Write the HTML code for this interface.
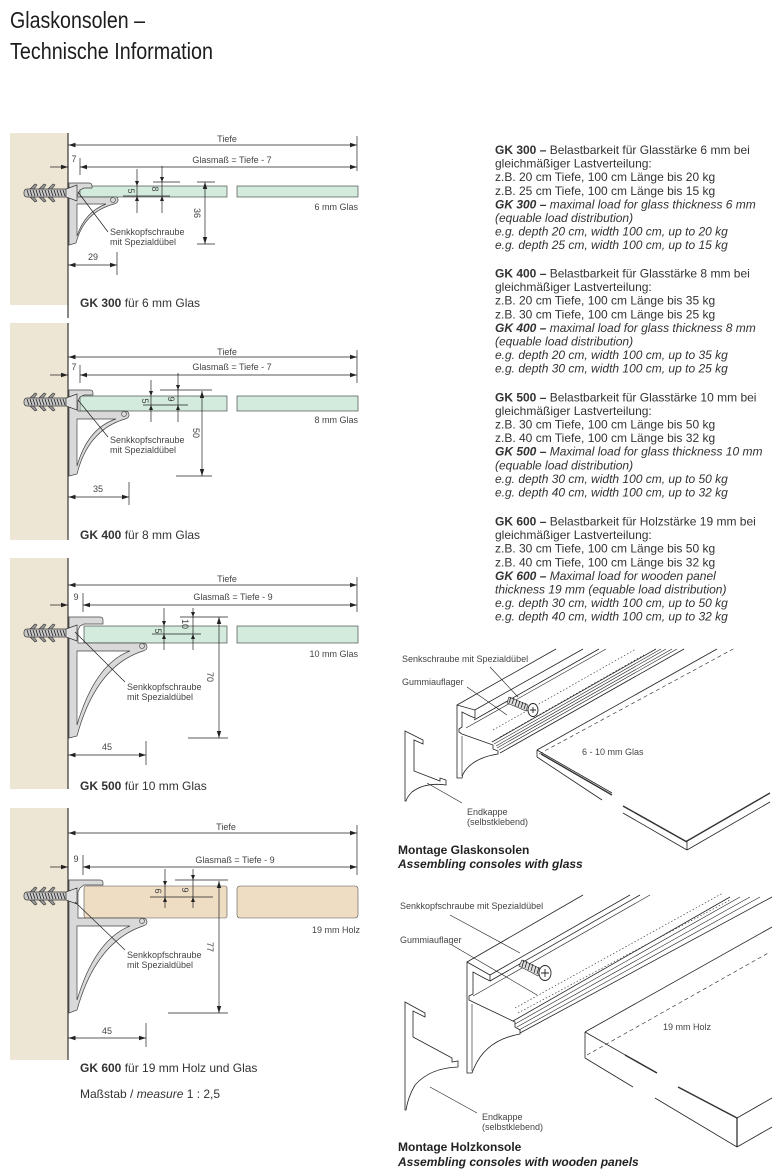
<!DOCTYPE html>
<html><head><meta charset="utf-8"><title>Glaskonsolen – Technische Information</title>
<style>
html,body{margin:0;padding:0;background:#fff;}
svg{display:block;}
text{font-family:"Liberation Sans",Arial,sans-serif;}
.d{stroke:#222;stroke-width:0.7;fill:none;}
.dt{font-size:9px;fill:#444;}
.lb{font-size:9px;fill:#444;}
.cap{font-size:12px;fill:#333;}
.rt{font-size:12px;fill:#333;}
.br{fill:#d9d9d9;stroke:#444;stroke-width:0.7;}
.bi{fill:#fff;stroke:#444;stroke-width:0.7;}
.ln{stroke:#222;stroke-width:0.8;fill:none;}
.lt{stroke:#222;stroke-width:0.6;fill:none;}
</style></head>
<body>
<svg width="774" height="1170" viewBox="0 0 774 1170" xmlns="http://www.w3.org/2000/svg">
<defs>
<marker id="ar" markerUnits="userSpaceOnUse" markerWidth="7" markerHeight="5" refX="7" refY="2.5" orient="auto-start-reverse" viewBox="0 0 7 5"><path d="M0,0.3 L7,2.5 L0,4.7z" fill="#222"/></marker>
<g id="screw">
<path d="M30,-4 L35,-9 L37,-8 L34,-4 Z M39,-4 L44,-9 L46,-8 L43,-4 Z M48,-4 L53,-9 L55,-8 L52,-4 Z M30,4 L35,9 L37,8 L34,4 Z M39,4 L44,9 L46,8 L43,4 Z M48,4 L53,9 L55,8 L52,4 Z" fill="#9a9a9a" stroke="#333" stroke-width="0.6"/>
<rect x="24" y="-4" width="44" height="8" rx="3" fill="#c8c8c8" stroke="#333" stroke-width="0.7"/>
<path d="M27,-3 l2,6 M30,-3 l2,6 M33,-3 l2,6 M36,-3 l2,6 M39,-3 l2,6 M42,-3 l2,6 M45,-3 l2,6 M48,-3 l2,6 M51,-3 l2,6 M54,-3 l2,6 M57,-3 l2,6 M60,-3 l2,6 M63,-3 l2,6" stroke="#222" stroke-width="0.8"/>
<path d="M66,-4 L77,-8 L77,8 L66,4 Z" fill="#e0e0e0" stroke="#333" stroke-width="0.7"/>
</g>
</defs>

<!-- Title -->
<text x="10" y="28" font-size="23" textLength="135" lengthAdjust="spacingAndGlyphs" fill="#1c1c1c">Glaskonsolen –</text>
<text x="10" y="59" font-size="23" textLength="203" lengthAdjust="spacingAndGlyphs" fill="#1c1c1c">Technische Information</text>

<!-- ============ GK 300 ============ -->
<rect x="10" y="133" width="58" height="172" fill="#eee6d4"/>
<line x1="68" y1="133" x2="68" y2="318" stroke="#111" stroke-width="1"/>
<line class="d" x1="68.5" y1="145" x2="357" y2="145" marker-start="url(#ar)" marker-end="url(#ar)"/>
<line class="d" x1="357" y1="136" x2="357" y2="171"/>
<text class="dt" x="227" y="142" text-anchor="middle">Tiefe</text>
<line class="d" x1="80" y1="167" x2="357" y2="167" marker-start="url(#ar)" marker-end="url(#ar)"/>
<line class="d" x1="80" y1="158" x2="80" y2="175"/>
<line class="d" x1="50" y1="167" x2="68" y2="167" marker-end="url(#ar)"/>
<text class="dt" x="74" y="162" text-anchor="middle">7</text>
<text class="dt" x="232" y="163" text-anchor="middle">Glasmaß = Tiefe - 7</text>
<rect x="80" y="186" width="147" height="11" fill="#d3ebdc" stroke="#333" stroke-width="0.6"/>
<rect x="237" y="186" width="121" height="11" fill="#d3ebdc" stroke="#333" stroke-width="0.6"/>
<text class="dt" x="358" y="210" text-anchor="end">6 mm Glas</text>
<line class="d" x1="137" y1="169" x2="137" y2="213"/>
<path d="M135,181 L139,181 L137,186 Z M135,201 L139,201 L137,196 Z" fill="#222"/>
<line class="d" x1="123" y1="196" x2="170" y2="196"/>
<line class="d" x1="162" y1="166" x2="162" y2="213"/>
<path d="M160,177 L164,177 L162,182 Z M160,201 L164,201 L162,196 Z" fill="#222"/>
<line class="d" x1="153" y1="182" x2="180" y2="182"/>
<text class="dt" transform="translate(128,191) rotate(90)" text-anchor="middle">5</text>
<text class="dt" transform="translate(152,189) rotate(90)" text-anchor="middle">8</text>
<line class="d" x1="205" y1="182" x2="205" y2="244" marker-start="url(#ar)" marker-end="url(#ar)"/>
<line class="d" x1="197" y1="182" x2="215" y2="182"/>
<line class="d" x1="197" y1="244" x2="215" y2="244"/>
<text class="dt" transform="translate(194,213) rotate(90)" text-anchor="middle">36</text>
<line class="d" x1="68.5" y1="265" x2="117" y2="265" marker-start="url(#ar)" marker-end="url(#ar)"/>
<line class="d" x1="117" y1="252" x2="117" y2="275"/>
<text class="dt" x="93" y="260" text-anchor="middle">29</text>
<path class="br" d="M69,183 L89,183 Q92,183 92,186 L92,188 L84,188 L80,190 L78,194 L78,197 L113,197 Q118,196 118,200 Q118,203 114,204 Q84,212 76,243 L69,245 Z"/>
<path class="bi" d="M77,204 L106,204 Q85,212 77,236 Z"/>
<circle cx="113" cy="200" r="2.5" fill="#d9d9d9" stroke="#444" stroke-width="0.6"/>
<use href="#screw" transform="translate(0,193)"/>
<line class="d" x1="78" y1="192" x2="108" y2="232"/>
<text class="lb" x="110" y="235">Senkkopfschraube</text>
<text class="lb" x="110" y="245">mit Spezialdübel</text>
<text class="cap" x="80" y="307"><tspan font-weight="bold">GK 300</tspan> für 6 mm Glas</text>

<!-- ============ GK 400 ============ -->
<rect x="10" y="323" width="58" height="217" fill="#eee6d4"/>
<line x1="68" y1="323" x2="68" y2="540" stroke="#111" stroke-width="1"/>
<line class="d" x1="68.5" y1="357" x2="357" y2="357" marker-start="url(#ar)" marker-end="url(#ar)"/>
<line class="d" x1="357" y1="350" x2="357" y2="383"/>
<text class="dt" x="227" y="355" text-anchor="middle">Tiefe</text>
<line class="d" x1="80" y1="375" x2="357" y2="375" marker-start="url(#ar)" marker-end="url(#ar)"/>
<line class="d" x1="80" y1="365" x2="80" y2="383"/>
<line class="d" x1="50" y1="375" x2="68" y2="375" marker-end="url(#ar)"/>
<text class="dt" x="74" y="370" text-anchor="middle">7</text>
<text class="dt" x="232" y="370" text-anchor="middle">Glasmaß = Tiefe - 7</text>
<rect x="80" y="396" width="147" height="15" fill="#d3ebdc" stroke="#333" stroke-width="0.6"/>
<rect x="237" y="396" width="121" height="15" fill="#d3ebdc" stroke="#333" stroke-width="0.6"/>
<text class="dt" x="358" y="423" text-anchor="end">8 mm Glas</text>
<line class="d" x1="151" y1="380" x2="151" y2="422"/>
<path d="M149,391 L153,391 L151,396 Z M149,410 L153,410 L151,405 Z" fill="#222"/>
<line class="d" x1="143" y1="405" x2="188" y2="405"/>
<line class="d" x1="178" y1="373" x2="178" y2="422"/>
<path d="M176,385 L180,385 L178,390 Z M176,410 L180,410 L178,405 Z" fill="#222"/>
<line class="d" x1="160" y1="390" x2="212" y2="390"/>
<text class="dt" transform="translate(142,401) rotate(90)" text-anchor="middle">5</text>
<text class="dt" transform="translate(168,399) rotate(90)" text-anchor="middle">9</text>
<line class="d" x1="202" y1="391" x2="202" y2="476" marker-start="url(#ar)" marker-end="url(#ar)"/>
<line class="d" x1="176" y1="476" x2="212" y2="476"/>
<text class="dt" transform="translate(193,433) rotate(90)" text-anchor="middle">50</text>
<line class="d" x1="68.5" y1="497" x2="129" y2="497" marker-start="url(#ar)" marker-end="url(#ar)"/>
<line class="d" x1="129" y1="482" x2="129" y2="505"/>
<text class="dt" x="98" y="492" text-anchor="middle">35</text>
<path class="br" d="M69,390 L90,390 Q93,390 93,393 L93,395 L84,395 L80,397 L78,401 L78,411 L124,411 Q129,411 129,415 Q129,418 125,419 Q88,430 77,474 L69,476 Z"/>
<path class="bi" d="M77,419 L116,419 Q88,428 77,466 Z"/>
<circle cx="124" cy="414" r="2.5" fill="#d9d9d9" stroke="#444" stroke-width="0.6"/>
<use href="#screw" transform="translate(0,402)"/>
<line class="d" x1="78" y1="400" x2="108" y2="437"/>
<text class="lb" x="110" y="443">Senkkopfschraube</text>
<text class="lb" x="110" y="453">mit Spezialdübel</text>
<text class="cap" x="80" y="539"><tspan font-weight="bold">GK 400</tspan> für 8 mm Glas</text>

<!-- ============ GK 500 ============ -->
<rect x="10" y="558" width="58" height="231" fill="#eee6d4"/>
<line x1="68" y1="558" x2="68" y2="789" stroke="#111" stroke-width="1"/>
<line class="d" x1="68.5" y1="585" x2="357" y2="585" marker-start="url(#ar)" marker-end="url(#ar)"/>
<line class="d" x1="357" y1="577" x2="357" y2="612"/>
<text class="dt" x="227" y="582" text-anchor="middle">Tiefe</text>
<line class="d" x1="83" y1="605" x2="357" y2="605" marker-start="url(#ar)" marker-end="url(#ar)"/>
<line class="d" x1="83" y1="593" x2="83" y2="612"/>
<line class="d" x1="50" y1="605" x2="68" y2="605" marker-end="url(#ar)"/>
<text class="dt" x="76" y="600" text-anchor="middle">9</text>
<text class="dt" x="233" y="600" text-anchor="middle">Glasmaß = Tiefe - 9</text>
<rect x="84" y="626" width="143" height="17" fill="#d3ebdc" stroke="#333" stroke-width="0.6"/>
<rect x="237" y="626" width="121" height="17" fill="#d3ebdc" stroke="#333" stroke-width="0.6"/>
<text class="dt" x="358" y="657" text-anchor="end">10 mm Glas</text>
<line class="d" x1="164" y1="608" x2="164" y2="650"/>
<path d="M162,621 L166,621 L164,626 Z M162,639 L166,639 L164,634 Z" fill="#222"/>
<line class="d" x1="152" y1="634" x2="201" y2="634"/>
<line class="d" x1="193" y1="608" x2="193" y2="650"/>
<path d="M191,612 L195,612 L193,617 Z M191,639 L195,639 L193,634 Z" fill="#222"/>
<line class="d" x1="180" y1="617" x2="228" y2="617"/>
<text class="dt" transform="translate(155,631) rotate(90)" text-anchor="middle">5</text>
<text class="dt" transform="translate(182,624) rotate(90)" text-anchor="middle">10</text>
<line class="d" x1="219" y1="617" x2="219" y2="738" marker-start="url(#ar)" marker-end="url(#ar)"/>
<line class="d" x1="188" y1="738" x2="228" y2="738"/>
<text class="dt" transform="translate(207,677) rotate(90)" text-anchor="middle">70</text>
<line class="d" x1="68.5" y1="755" x2="146" y2="755" marker-start="url(#ar)" marker-end="url(#ar)"/>
<line class="d" x1="146" y1="741" x2="146" y2="765"/>
<text class="dt" x="107" y="750" text-anchor="middle">45</text>
<path class="br" d="M69,617 L100,617 Q103,617 103,620 L103,624 L84,624 L80,626 L78,630 L78,643 L142,643 Q147,643 147,647 Q147,650 143,651 Q96,666 77,736 L69,738 Z"/>
<path class="bi" d="M77,651 L130,651 Q95,664 77,725 Z"/>
<circle cx="142" cy="646" r="2.5" fill="#d9d9d9" stroke="#444" stroke-width="0.6"/>
<use href="#screw" transform="translate(0,633)"/>
<line class="d" x1="75" y1="632" x2="125" y2="682"/>
<text class="lb" x="127" y="690">Senkkopfschraube</text>
<text class="lb" x="127" y="700">mit Spezialdübel</text>
<text class="cap" x="80" y="790"><tspan font-weight="bold">GK 500</tspan> für 10 mm Glas</text>

<!-- ============ GK 600 ============ -->
<rect x="10" y="808" width="58" height="252" fill="#eee6d4"/>
<line x1="68" y1="808" x2="68" y2="1060" stroke="#111" stroke-width="1"/>
<line class="d" x1="68.5" y1="833" x2="357" y2="833" marker-start="url(#ar)" marker-end="url(#ar)"/>
<line class="d" x1="357" y1="825" x2="357" y2="875"/>
<text class="dt" x="226" y="830" text-anchor="middle">Tiefe</text>
<line class="d" x1="83" y1="867" x2="357" y2="867" marker-start="url(#ar)" marker-end="url(#ar)"/>
<line class="d" x1="83" y1="855" x2="83" y2="875"/>
<line class="d" x1="50" y1="867" x2="68" y2="867" marker-end="url(#ar)"/>
<text class="dt" x="76" y="862" text-anchor="middle">9</text>
<text class="dt" x="235" y="863" text-anchor="middle">Glasmaß = Tiefe - 9</text>
<rect x="84" y="886" width="143" height="32" rx="2" fill="#eedcc3" stroke="#555" stroke-width="0.6"/>
<rect x="237" y="886" width="121" height="32" rx="3" fill="#eedcc3" stroke="#555" stroke-width="0.6"/>
<text class="dt" x="360" y="933" text-anchor="end">19 mm Holz</text>
<line class="d" x1="165" y1="869" x2="165" y2="908"/>
<path d="M163,881 L167,881 L165,886 Z M163,902 L167,902 L165,897 Z" fill="#222"/>
<line class="d" x1="150" y1="897" x2="213" y2="897"/>
<line class="d" x1="193" y1="869" x2="193" y2="908"/>
<path d="M191,875 L195,875 L193,880 Z M191,902 L195,902 L193,897 Z" fill="#222"/>
<line class="d" x1="175" y1="880" x2="228" y2="880"/>
<text class="dt" transform="translate(155,891) rotate(90)" text-anchor="middle">6</text>
<text class="dt" transform="translate(182,890) rotate(90)" text-anchor="middle">9</text>
<line class="d" x1="219" y1="881" x2="219" y2="1013" marker-start="url(#ar)" marker-end="url(#ar)"/>
<line class="d" x1="168" y1="1013" x2="228" y2="1013"/>
<text class="dt" transform="translate(207,947) rotate(90)" text-anchor="middle">77</text>
<line class="d" x1="68.5" y1="1038" x2="146" y2="1038" marker-start="url(#ar)" marker-end="url(#ar)"/>
<line class="d" x1="146" y1="1023" x2="146" y2="1047"/>
<text class="dt" x="107" y="1034" text-anchor="middle">45</text>
<path class="br" d="M69,880 L100,880 Q103,880 103,883 L103,885 L84,885 L80,888 L78,892 L78,918 L142,918 Q147,918 147,922 Q147,925 143,926 Q96,942 77,1010 L69,1013 Z"/>
<path class="bi" d="M77,926 L130,926 Q95,940 77,1000 Z"/>
<circle cx="142" cy="921" r="2.5" fill="#d9d9d9" stroke="#444" stroke-width="0.6"/>
<use href="#screw" transform="translate(0,896)"/>
<line class="d" x1="75" y1="902" x2="125" y2="950"/>
<text class="lb" x="127" y="958">Senkkopfschraube</text>
<text class="lb" x="127" y="968">mit Spezialdübel</text>
<text class="cap" x="80" y="1072"><tspan font-weight="bold">GK 600</tspan> für 19 mm Holz und Glas</text>
<text class="cap" x="80" y="1098">Maßstab / <tspan font-style="italic">measure</tspan> 1 : 2,5</text>

<!-- ============ Right text ============ -->
<g class="rt">
<text class="rt" x="495" y="154"><tspan font-weight="bold">GK 300 –</tspan> Belastbarkeit für Glasstärke 6 mm bei</text>
<text class="rt" x="495" y="167.6">gleichmäßiger Lastverteilung:</text>
<text class="rt" x="495" y="181.2">z.B. 20 cm Tiefe, 100 cm Länge bis 20 kg</text>
<text class="rt" x="495" y="194.8">z.B. 25 cm Tiefe, 100 cm Länge bis 15 kg</text>
<text class="rt" x="495" y="208.4" font-style="italic"><tspan font-weight="bold">GK 300 –</tspan> maximal load for glass thickness 6 mm</text>
<text class="rt" x="495" y="222" font-style="italic">(equable load distribution)</text>
<text class="rt" x="495" y="235.6" font-style="italic">e.g. depth 20 cm, width 100 cm, up to 20 kg</text>
<text class="rt" x="495" y="249.2" font-style="italic">e.g. depth 25 cm, width 100 cm, up to 15 kg</text>

<text class="rt" x="495" y="277.5"><tspan font-weight="bold">GK 400 –</tspan> Belastbarkeit für Glasstärke 8 mm bei</text>
<text class="rt" x="495" y="291.1">gleichmäßiger Lastverteilung:</text>
<text class="rt" x="495" y="304.7">z.B. 20 cm Tiefe, 100 cm Länge bis 35 kg</text>
<text class="rt" x="495" y="318.3">z.B. 30 cm Tiefe, 100 cm Länge bis 25 kg</text>
<text class="rt" x="495" y="331.9" font-style="italic"><tspan font-weight="bold">GK 400 –</tspan> maximal load for glass thickness 8 mm</text>
<text class="rt" x="495" y="345.5" font-style="italic">(equable load distribution)</text>
<text class="rt" x="495" y="359.1" font-style="italic">e.g. depth 20 cm, width 100 cm, up to 35 kg</text>
<text class="rt" x="495" y="372.7" font-style="italic">e.g. depth 30 cm, width 100 cm, up to 25 kg</text>

<text class="rt" x="495" y="401.3"><tspan font-weight="bold">GK 500 –</tspan> Belastbarkeit für Glasstärke 10 mm bei</text>
<text class="rt" x="495" y="414.9">gleichmäßiger Lastverteilung:</text>
<text class="rt" x="495" y="428.5">z.B. 30 cm Tiefe, 100 cm Länge bis 50 kg</text>
<text class="rt" x="495" y="442.1">z.B. 40 cm Tiefe, 100 cm Länge bis 32 kg</text>
<text class="rt" x="495" y="455.7" font-style="italic"><tspan font-weight="bold">GK 500 –</tspan> Maximal load for glass thickness 10 mm</text>
<text class="rt" x="495" y="469.3" font-style="italic">(equable load distribution)</text>
<text class="rt" x="495" y="482.9" font-style="italic">e.g. depth 30 cm, width 100 cm, up to 50 kg</text>
<text class="rt" x="495" y="496.5" font-style="italic">e.g. depth 40 cm, width 100 cm, up to 32 kg</text>

<text class="rt" x="495" y="525.5"><tspan font-weight="bold">GK 600 –</tspan> Belastbarkeit für Holzstärke 19 mm bei</text>
<text class="rt" x="495" y="539.1">gleichmäßiger Lastverteilung:</text>
<text class="rt" x="495" y="552.7">z.B. 30 cm Tiefe, 100 cm Länge bis 50 kg</text>
<text class="rt" x="495" y="566.3">z.B. 40 cm Tiefe, 100 cm Länge bis 32 kg</text>
<text class="rt" x="495" y="579.9" font-style="italic"><tspan font-weight="bold">GK 600 –</tspan> Maximal load for wooden panel</text>
<text class="rt" x="495" y="593.5" font-style="italic">thickness 19 mm (equable load distribution)</text>
<text class="rt" x="495" y="607.1" font-style="italic">e.g. depth 30 cm, width 100 cm, up to 50 kg</text>
<text class="rt" x="495" y="620.7" font-style="italic">e.g. depth 40 cm, width 100 cm, up to 32 kg</text>
</g>

<!-- ============ Montage Glaskonsolen ============ -->
<g>
<!-- rail long lines -->
<line class="ln" x1="457" y1="705" x2="556" y2="649"/>
<line class="ln" x1="473" y1="711" x2="583" y2="649"/>
<line class="ln" x1="474" y1="720" x2="599" y2="649"/>
<line class="lt" x1="466" y1="728" x2="606" y2="649"/>
<line class="lt" x1="493" y1="730" x2="636" y2="649" stroke-dasharray="1.5,2"/>
<line class="lt" x1="500" y1="737" x2="644" y2="655" stroke-dasharray="1.5,2"/>
<line class="ln" x1="492" y1="742" x2="656" y2="649"/>
<line class="lt" x1="494" y1="744" x2="661" y2="649"/>
<line class="lt" x1="496" y1="746" x2="666" y2="649"/>
<line class="lt" x1="497" y1="748" x2="672" y2="649"/>
<line class="lt" x1="499" y1="750" x2="677" y2="649"/>
<line class="ln" x1="500" y1="753" x2="684" y2="649"/>
<!-- profile -->
<path d="M457,705 L475,710 L475,718 L470,716 L462,712 L462,727 L459,729 L459,732 L462,734 L493,745 L493,749 L498,751 L498,754 Q472,758 463,774 L462,778 L457,778 Z" fill="#fff" stroke="#222" stroke-width="0.8"/>
<line class="lt" x1="462" y1="736" x2="462" y2="776"/>
<!-- screw -->
<path d="M509,697 L528,705 L526,711 L507,703 Z" fill="#ddd" stroke="#222" stroke-width="0.6"/>
<path d="M511,697 l-2,6 M514,698 l-2,6 M517,700 l-2,6 M520,701 l-2,6 M523,702 l-2,6 M526,703 l-2,6" stroke="#222" stroke-width="0.8"/>
<ellipse cx="533" cy="710" rx="5" ry="6.5" fill="#fff" stroke="#222" stroke-width="0.9"/>
<path d="M530,710 h6 M533,707 v6" stroke="#222" stroke-width="0.9"/>
<!-- end cap -->
<path d="M405,731 L423,740 L423,744 L414,740 L414,771 L440,781 L440,778 L446,780 L446,785 Q425,782 412,792 Q407,797 406,801 L405,801 Z" fill="#fff" stroke="#222" stroke-width="0.8"/>
<!-- glass plate -->
<line class="ln" x1="537" y1="750" x2="717" y2="649"/>
<line class="lt" x1="539" y1="754" x2="735" y2="648" stroke-dasharray="4,3"/>
<line class="ln" x1="537" y1="750" x2="537" y2="757"/>
<line class="ln" x1="537" y1="750" x2="612" y2="793"/>
<line x1="541" y1="754" x2="612" y2="795" stroke="#333" stroke-width="1.4"/>
<line class="ln" x1="537" y1="757" x2="602" y2="800"/>
<line x1="623" y1="806" x2="687" y2="842" stroke="#333" stroke-width="1.5"/>
<line class="ln" x1="623" y1="813" x2="687" y2="850"/>
<line class="ln" x1="687" y1="840" x2="687" y2="850"/>
<line x1="687" y1="841" x2="770" y2="793" stroke="#333" stroke-width="1.4"/>
<line class="ln" x1="687" y1="850" x2="770" y2="802"/>
<text class="lb" x="582" y="755">6 - 10 mm Glas</text>
<!-- labels -->
<text class="lb" x="402" y="662">Senkschraube mit Spezialdübel</text>
<text class="lb" x="402" y="685">Gummiauflager</text>
<line class="lt" x1="490" y1="667" x2="518" y2="697"/>
<line class="lt" x1="467" y1="687" x2="507" y2="715"/>
<text class="lb" x="467" y="815">Endkappe</text>
<text class="lb" x="467" y="825">(selbstklebend)</text>
<line class="lt" x1="427" y1="783" x2="462" y2="803"/>
<text x="398" y="854" font-size="12" font-weight="bold" fill="#222">Montage Glaskonsolen</text>
<text x="398" y="868" font-size="12" font-weight="bold" font-style="italic" fill="#222">Assembling consoles with glass</text>
</g>

<!-- ============ Montage Holzkonsole ============ -->
<g>
<line class="ln" x1="467" y1="962" x2="583" y2="895"/>
<line class="ln" x1="490" y1="975" x2="630" y2="895"/>
<line class="ln" x1="490" y1="981" x2="640" y2="895"/>
<line class="lt" x1="473" y1="996" x2="650" y2="895"/>
<line class="lt" x1="515" y1="1008" x2="723" y2="893" stroke-dasharray="1.5,2"/>
<line class="lt" x1="518" y1="1013" x2="730" y2="900" stroke-dasharray="1.5,2"/>
<line class="ln" x1="513" y1="1021" x2="730" y2="897"/>
<line class="lt" x1="515" y1="1024" x2="740" y2="897"/>
<line class="lt" x1="517" y1="1027" x2="750" y2="897"/>
<line class="lt" x1="519" y1="1030" x2="760" y2="897"/>
<line class="ln" x1="520" y1="1033" x2="772" y2="897"/>
<path d="M467,962 L490,975 L490,981 L484,978 L473,972 L473,994 L469,996 L469,1000 L473,1002 L515,1022 L515,1027 L520,1030 L520,1034 Q486,1040 474,1068 L472,1073 L467,1073 Z" fill="#fff" stroke="#222" stroke-width="0.8"/>
<line class="lt" x1="472" y1="1004" x2="472" y2="1071"/>
<!-- screw -->
<path d="M522,960 L541,969 L538,976 L519,966 Z" fill="#ddd" stroke="#222" stroke-width="0.6"/>
<path d="M524,960 l-2,7 M527,961 l-2,7 M530,963 l-2,7 M533,964 l-2,7 M536,966 l-2,7 M539,967 l-2,7" stroke="#222" stroke-width="0.8"/>
<ellipse cx="545" cy="973" rx="6" ry="7.5" fill="#fff" stroke="#222" stroke-width="0.9"/>
<path d="M541,973 h8 M545,969 v8" stroke="#222" stroke-width="0.9"/>
<!-- end cap -->
<path d="M405,1002 L425,1013 L425,1017 L413,1011 L413,1037 L452,1058 L452,1062 L458,1061 L458,1067 Q430,1068 415,1085 Q408,1097 406,1110 L405,1110 Z" fill="#fff" stroke="#222" stroke-width="0.8"/>
<!-- wood plate -->
<line class="ln" x1="585" y1="1032" x2="772" y2="927"/>
<line class="lt" x1="587" y1="1055" x2="770" y2="952" stroke-dasharray="4,3"/>
<line class="ln" x1="585" y1="1032" x2="585" y2="1058"/>
<line class="ln" x1="585" y1="1032" x2="657" y2="1073"/>
<line x1="625" y1="1055" x2="657" y2="1073" stroke="#333" stroke-width="1.5"/>
<line x1="678" y1="1087" x2="737" y2="1118" stroke="#333" stroke-width="1.5"/>
<line class="ln" x1="585" y1="1058" x2="633" y2="1087"/>
<line class="ln" x1="655" y1="1098" x2="737" y2="1147"/>
<line x1="737" y1="1118" x2="737" y2="1147" stroke="#222" stroke-width="1.2"/>
<line class="ln" x1="737" y1="1118" x2="772" y2="1098"/>
<line class="ln" x1="737" y1="1147" x2="772" y2="1127"/>
<text class="lb" x="663" y="1030">19 mm Holz</text>
<text class="lb" x="400" y="909">Senkkopfschraube mit Spezialdübel</text>
<text class="lb" x="400" y="943">Gummiauflager</text>
<line class="lt" x1="450" y1="915" x2="520" y2="953"/>
<line class="lt" x1="452" y1="945" x2="537" y2="995"/>
<text class="lb" x="482" y="1120">Endkappe</text>
<text class="lb" x="482" y="1130">(selbstklebend)</text>
<line class="lt" x1="430" y1="1087" x2="477" y2="1113"/>
<text x="398" y="1151" font-size="12" font-weight="bold" fill="#222">Montage Holzkonsole</text>
<text x="398" y="1166" font-size="12" font-weight="bold" font-style="italic" fill="#222">Assembling consoles with wooden panels</text>
</g>
</svg>
</body></html>
